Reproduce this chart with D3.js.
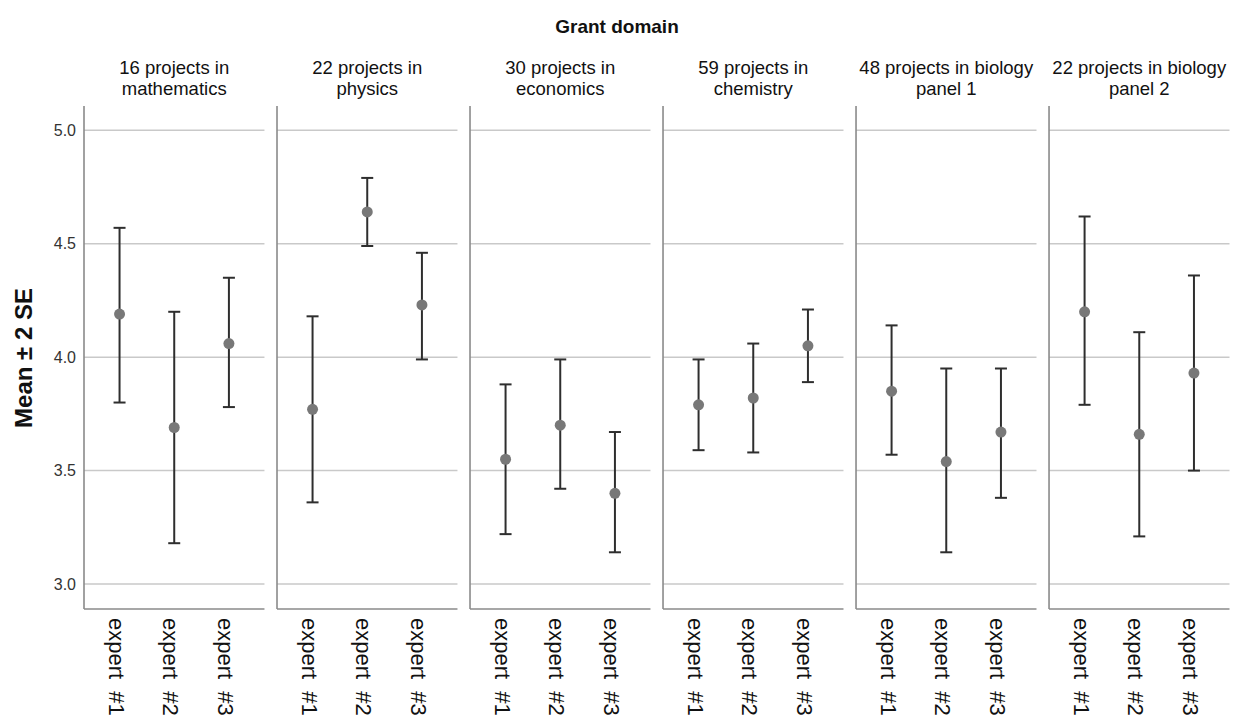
<!DOCTYPE html>
<html>
<head>
<meta charset="utf-8">
<script src="https://cdn.jsdelivr.net/npm/d3@7"></script>
<style>
  body { margin: 0; background: #fff; }
  svg { display: block; font-family: "Liberation Sans", Arial, sans-serif; }
</style>
</head>
<body>
<svg id="chart" width="1236" height="720"></svg>
<script>
// Panel titles (two lines each)
const panelTitles = [
  ['16 projects in', 'mathematics'],
  ['22 projects in', 'physics'],
  ['30 projects in', 'economics'],
  ['59 projects in', 'chemistry'],
  ['48 projects in biology', 'panel 1'],
  ['22 projects in biology', 'panel 2'],
];
const experts = ['expert #1', 'expert #2', 'expert #3'];

// Mean and mean ± 2 SE per panel, per expert
const means = [
  [4.19, 3.69, 4.06],
  [3.77, 4.64, 4.23],
  [3.55, 3.70, 3.40],
  [3.79, 3.82, 4.05],
  [3.85, 3.54, 3.67],
  [4.20, 3.66, 3.93],
];
const upper = [
  [4.57, 4.20, 4.35],
  [4.18, 4.79, 4.46],
  [3.88, 3.99, 3.67],
  [3.99, 4.06, 4.21],
  [4.14, 3.95, 3.95],
  [4.62, 4.11, 4.36],
];
const lower = [
  [3.80, 3.18, 3.78],
  [3.36, 4.49, 3.99],
  [3.22, 3.42, 3.14],
  [3.59, 3.58, 3.89],
  [3.57, 3.14, 3.38],
  [3.79, 3.21, 3.50],
];
const yTicks = [3.0, 3.5, 4.0, 4.5, 5.0];

const svg = d3.select('#chart');
const plotTop = 106, plotBottom = 609;

const panel = d3.scaleBand()
  .domain(d3.range(panelTitles.length))
  .range([84, 1229.5])
  .paddingInner(0.065)
  .paddingOuter(0);

const x = d3.scalePoint()
  .domain(experts)
  .range([0, panel.bandwidth()])
  .padding(0.65);

const y = d3.scaleLinear().domain([2.89, 5.107]).range([plotBottom, plotTop]);

// Main title
svg.append('text')
  .attr('x', 617)
  .attr('y', 33)
  .attr('text-anchor', 'middle')
  .attr('font-size', 19)
  .attr('font-weight', 'bold')
  .attr('fill', '#111')
  .text('Grant domain');

// Y axis title
svg.append('text')
  .attr('transform', 'translate(32,358) rotate(-90)')
  .attr('text-anchor', 'middle')
  .attr('font-size', 24)
  .attr('font-weight', 'bold')
  .attr('fill', '#111')
  .text('Mean \u00b1 2 SE');

// Y tick labels on first panel
svg.append('g')
  .attr('transform', `translate(${panel(0)},0)`)
  .call(d3.axisLeft(y).tickValues(yTicks).tickFormat(d3.format('.1f')).tickSize(0).tickPadding(8))
  .call((g) => g.select('.domain').remove())
  .call((g) => g.selectAll('text')
    .attr('font-size', 16)
    .attr('font-family', '"Liberation Sans", Arial, sans-serif')
    .attr('fill', '#333'));

panelTitles.forEach((title, i) => {
  const g = svg.append('g').attr('transform', `translate(${panel(i)},0)`);
  const w = panel.bandwidth();

  // Gridlines
  g.selectAll('.grid')
    .data(yTicks)
    .join('line')
    .attr('x1', 0)
    .attr('x2', w)
    .attr('y1', (d) => y(d))
    .attr('y2', (d) => y(d))
    .attr('stroke', '#c9c9c9')
    .attr('stroke-width', 1.5);

  // Panel frame: left and bottom lines
  g.append('line')
    .attr('x1', 0).attr('x2', 0)
    .attr('y1', plotTop).attr('y2', plotBottom)
    .attr('stroke', '#8a8a8a')
    .attr('stroke-width', 1.6);
  g.append('line')
    .attr('x1', 0).attr('x2', w)
    .attr('y1', plotBottom).attr('y2', plotBottom)
    .attr('stroke', '#8a8a8a')
    .attr('stroke-width', 1.6);

  // Panel title
  const t = g.append('text')
    .attr('text-anchor', 'middle')
    .attr('font-size', 18.5)
    .attr('fill', '#111');
  title.forEach((line, k) => {
    t.append('tspan')
      .attr('x', w / 2)
      .attr('y', 74 + k * 20.5)
      .text(line);
  });

  // Error bars
  experts.forEach((ex, j) => {
    const cx = x(ex);
    const capW = 6;
    g.append('line')
      .attr('x1', cx).attr('x2', cx)
      .attr('y1', y(upper[i][j])).attr('y2', y(lower[i][j]))
      .attr('stroke', '#2e2e2e')
      .attr('stroke-width', 2);
    [upper[i][j], lower[i][j]].forEach((v) => {
      g.append('line')
        .attr('x1', cx - capW).attr('x2', cx + capW)
        .attr('y1', y(v)).attr('y2', y(v))
        .attr('stroke', '#2e2e2e')
        .attr('stroke-width', 2);
    });
    g.append('circle')
      .attr('cx', cx)
      .attr('cy', y(means[i][j]))
      .attr('r', 5.5)
      .attr('fill', '#787878');

    // X label, rotated
    g.append('text')
      .attr('transform', `translate(${cx},618) rotate(90)`)
      .attr('dy', '0.5em')
      .attr('font-size', 22)
      .attr('fill', '#111')
      .text(ex.replace(' ', '\u00a0\u00a0'));
  });
});
</script>
</body>
</html>
